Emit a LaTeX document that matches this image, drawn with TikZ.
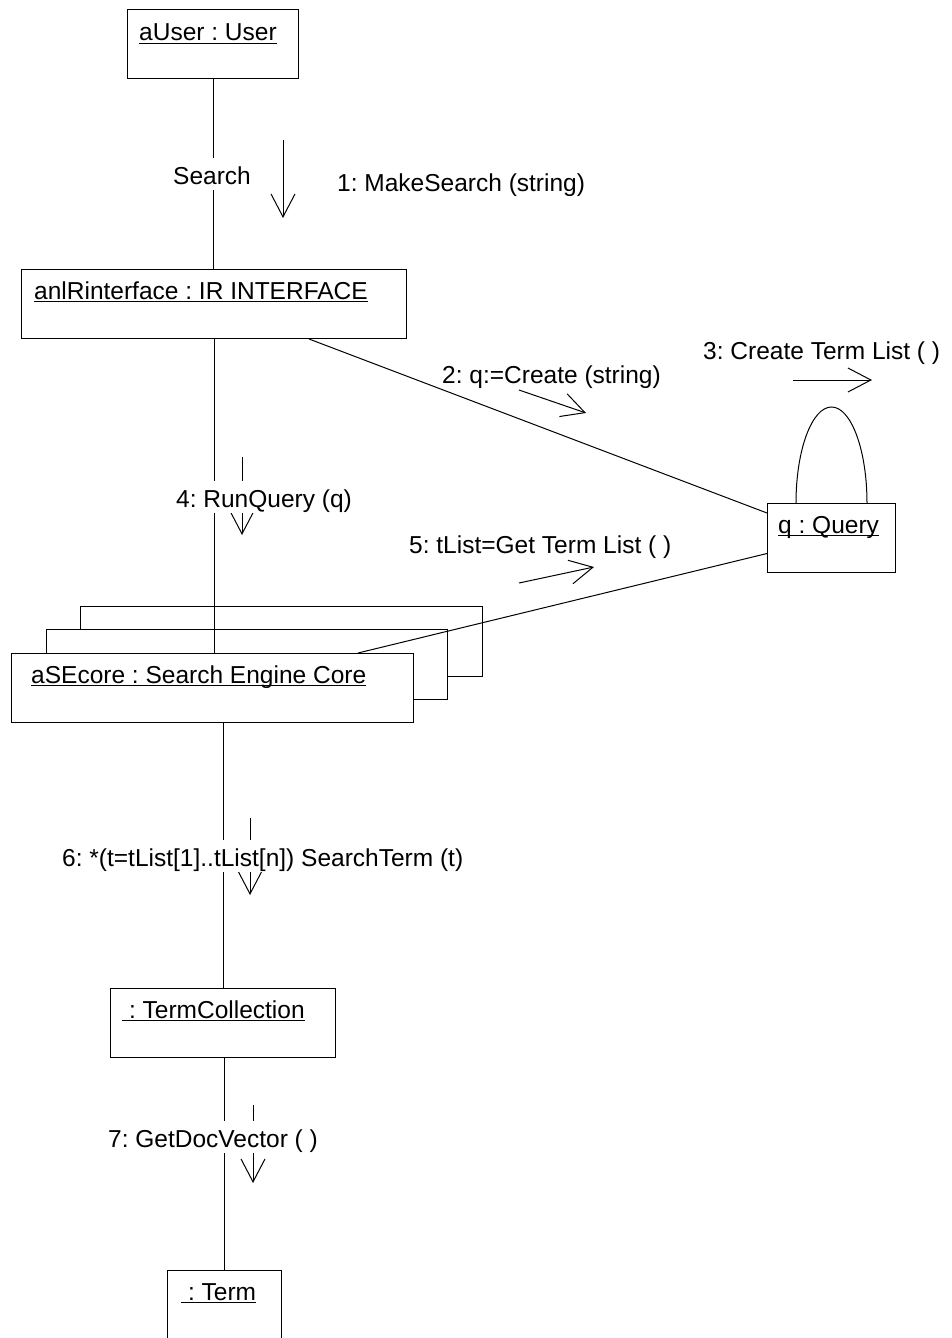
\documentclass[tikz,border=0pt]{standalone}
\usepackage{fontspec}
\setmainfont{Liberation Sans}
\usetikzlibrary{arrows.meta}
\frenchspacing
% underlined object name, rule at a fixed depth below the baseline
\newcommand{\objname}[1]{\setbox0=\hbox{#1}\rlap{\rule[-2.8pt]{\wd0}{1.1pt}}\box0}
\begin{document}
\begin{tikzpicture}[x=1pt,y=-1pt,
  font=\fontsize{24.5}{29}\selectfont,
  obj/.style={draw, fill=white, line width=1pt, minimum height=69pt, anchor=north west, inner sep=0pt},
  objtext/.style={anchor=base west, inner sep=0pt},
  lab/.style={anchor=base west, inner sep=0pt},
  onlink/.style={lab, fill=white, inner xsep=2pt, inner ysep=0pt, text height=26pt, text depth=6pt},
  link/.style={line width=1pt},
  msg/.style={line width=1pt, -{Straight Barb[length=23pt,width=24pt]}}]
\useasboundingbox (0,0) rectangle (952,1338);

% objects
\node[obj, minimum width=171pt] (user) at (127,9) {};
\node[obj, minimum width=385pt] (ir) at (21,269) {};
\node[obj, minimum width=128pt] (query) at (767,503) {};
\node[obj, minimum width=402pt, minimum height=70pt] (seB) at (80,606) {};
\node[obj, minimum width=401pt, minimum height=70pt] (seM) at (46,629) {};
\node[obj, minimum width=402pt] (se) at (11,653) {};
\node[obj, minimum width=225pt] (tc) at (110,988) {};
\node[obj, minimum width=114pt, minimum height=70pt] (term) at (167,1270) {};

\node[objtext] (userT) at ([shift={(12,32)}]user.north west) {\objname{aUser : User}};
\node[objtext] (irT) at ([shift={(13,30)}]ir.north west) {\objname{anlRinterface : IR INTERFACE}};
\node[objtext] (queryT) at ([shift={(11,30)}]query.north west) {\objname{q : Query}};
\node[objtext] (seT) at ([shift={(20,30)}]se.north west) {\objname{aSEcore : Search Engine Core}};
\node[objtext] (tcT) at ([shift={(12,30)}]tc.north west) {\objname{\ : TermCollection}};
\node[objtext] (termT) at ([shift={(14,30)}]term.north west) {\objname{\ : Term}};

% links
\draw[link] (user.south) -- (user.south |- ir.north);
\draw[link] (ir.south) -- (ir.south |- se.north);
\draw[link] ([xshift=-98pt]ir.south east) -- ([yshift=-10pt]query.north west);
\draw[link] ([yshift=-15.5pt]query.west) -- ([xshift=347pt]se.north west);
\draw[link] ([xshift=29pt]query.north west) arc[start angle=180, end angle=0, x radius=35.5pt, y radius=96pt];
\draw[link] (tc.north |- se.south) -- (tc.north);
\draw[link] (term.north |- tc.south) -- (term.north);

% message arrows
\coordinate (m1a) at (283,140); \coordinate (m1b) at (283,218);
\coordinate (m2a) at (519,390); \coordinate (m2b) at (586,413);
\coordinate (m3a) at (793,380); \coordinate (m3b) at (872,380);
\coordinate (m4a) at (242,457); \coordinate (m4b) at (242,535);
\coordinate (m5a) at (519,583); \coordinate (m5b) at (594,567);
\coordinate (m6a) at (250,818); \coordinate (m6b) at (250,895);
\coordinate (m7a) at (253,1105); \coordinate (m7b) at (253,1183);
\foreach \m in {1,...,7} {\draw[msg] (m\m a) -- (m\m b);}

% labels
\node[onlink] (lSearch) at (171,184) {Search};
\node[lab] (l1) at (337,191) {1: MakeSearch (string)};
\node[lab] (l2) at (442,383) {2: q:=Create (string)};
\node[lab] (l3) at (703,359) {3: Create Term List ( )};
\node[onlink] (l4) at (174,507) {4: RunQuery (q)};
\node[lab] (l5) at (409,553) {5: tList=Get Term List ( )};
\node[onlink] (l6) at (60,866) {6: *(t=tList[1]..tList[n]) SearchTerm (t)};
\node[onlink] (l7) at (106,1147) {7: GetDocVector ( )};
\end{tikzpicture}
\end{document}
